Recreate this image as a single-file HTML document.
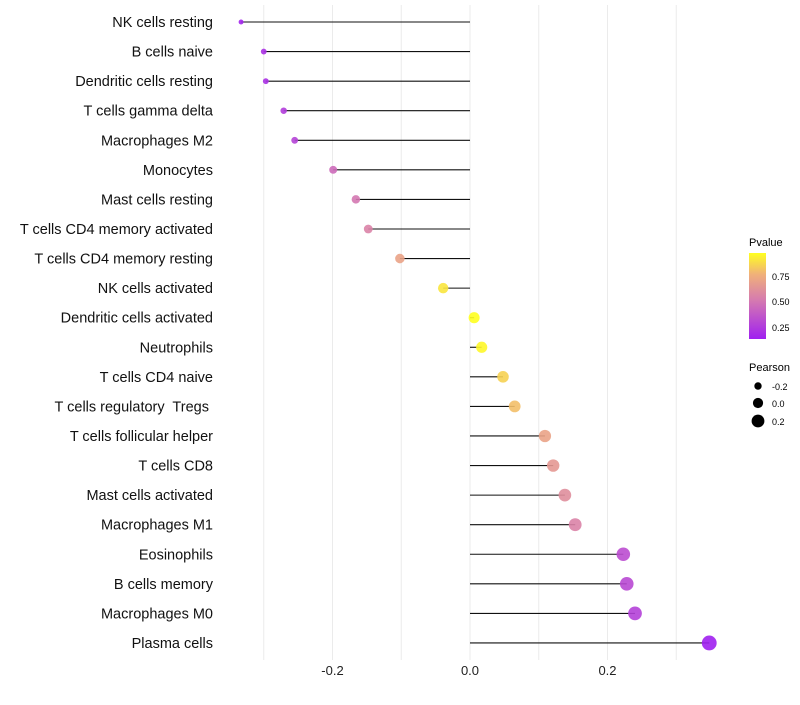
<!DOCTYPE html>
<html><head><meta charset="utf-8"><style>
body{margin:0;background:#fff;font-family:"Liberation Sans",sans-serif}
svg text{font-family:"Liberation Sans",sans-serif;white-space:pre}
</style></head><body>
<svg id="chart" width="800" height="700" viewBox="0 0 800 700">
<defs><linearGradient id="pg" x1="0" y1="1" x2="0" y2="0">
<stop offset="0" stop-color="#a020f0"/><stop offset="0.45" stop-color="#d57ab0"/><stop offset="0.75" stop-color="#f0b07a"/><stop offset="1" stop-color="#ffff20"/></linearGradient></defs>
<g id="grid"></g><g id="marks"></g><g id="labels"></g>
<g>
<text x="749" y="246" font-size="11">Pvalue</text>
<rect x="749" y="253" width="17" height="86" fill="url(#pg)"/>
<text x="772" y="280" font-size="9">0.75</text>
<text x="772" y="305" font-size="9">0.50</text>
<text x="772" y="331" font-size="9">0.25</text>
</g>
<g>
<text x="749" y="371" font-size="11">Pearson</text>
<circle cx="758" cy="386" r="3.7" fill="#000"/><text x="772" y="390" font-size="9">-0.2</text>
<circle cx="758" cy="403" r="5.1" fill="#000"/><text x="772" y="407" font-size="9">0.0</text>
<circle cx="758" cy="421" r="6.4" fill="#000"/><text x="772" y="425" font-size="9">0.2</text>
</g>
</svg>
<script>
const cells=["NK cells resting","B cells naive","Dendritic cells resting","T cells gamma delta","Macrophages M2","Monocytes","Mast cells resting","T cells CD4 memory activated","T cells CD4 memory resting","NK cells activated","Dendritic cells activated","Neutrophils","T cells CD4 naive","T cells regulatory  Tregs ","T cells follicular helper","T cells CD8","Mast cells activated","Macrophages M1","Eosinophils","B cells memory","Macrophages M0","Plasma cells"];
const pearson=[-0.333,-0.300,-0.297,-0.271,-0.255,-0.199,-0.166,-0.148,-0.102,-0.039,0.006,0.017,0.048,0.065,0.109,0.121,0.138,0.153,0.223,0.228,0.240,0.348];
const pvalue=[0.15,0.2,0.2,0.25,0.28,0.45,0.5,0.55,0.7,0.9,0.98,0.95,0.85,0.8,0.7,0.65,0.6,0.55,0.32,0.3,0.27,0.12];
const ticks=[-0.2,0.0,0.2];
const gridVals=[-0.3,-0.2,-0.1,0.0,0.1,0.2,0.3];
const NS="http://www.w3.org/2000/svg";
const x=v=>470+v*687.5;
const y=i=>22+i*29.57;
const rad=v=>Math.sqrt(Math.max(3,6+72*(v+0.333)));
const stops=[[0,[160,32,240]],[0.45,[213,122,176]],[0.75,[240,176,122]],[1,[255,255,32]]];
function col(p){const t=Math.min(1,Math.max(0,(p-0.13)/0.84));for(let k=1;k<stops.length;k++){if(t<=stops[k][0]){const a=stops[k-1],b=stops[k];const f=(t-a[0])/(b[0]-a[0]);return `rgb(${a[1].map((c,j)=>Math.round(c+(b[1][j]-c)*f)).join(',')})`;}}return "rgb(255,255,32)";}
function mk(t,at,parent){const e=document.createElementNS(NS,t);for(const k in at)e.setAttribute(k,at[k]);document.getElementById(parent).appendChild(e);return e;}
gridVals.forEach(v=>{const l=mk('line',{x1:x(v),x2:x(v),y1:5,y2:660,stroke:'#ebebeb','stroke-width':1},'grid');

});
ticks.forEach(v=>{const t=mk('text',{x:x(v),y:675,'font-size':13,'text-anchor':'middle',fill:'#222'},'labels');t.textContent=v.toFixed(1);

});
cells.forEach((c,i)=>{
const t=mk('text',{x:213,y:y(i)+5,'font-size':14.5,'text-anchor':'end',fill:'#111'},'labels');t.textContent=c;
t.setAttribute('xml:space','preserve');


const l=mk('line',{x1:x(0),x2:x(pearson[i]),y1:y(i),y2:y(i),stroke:'#111','stroke-width':1.1},'marks');


const p=mk('circle',{cx:x(pearson[i]),cy:y(i),r:rad(pearson[i]),fill:col(pvalue[i]),'fill-opacity':0.9},'marks');


});
</script>
</body></html>
